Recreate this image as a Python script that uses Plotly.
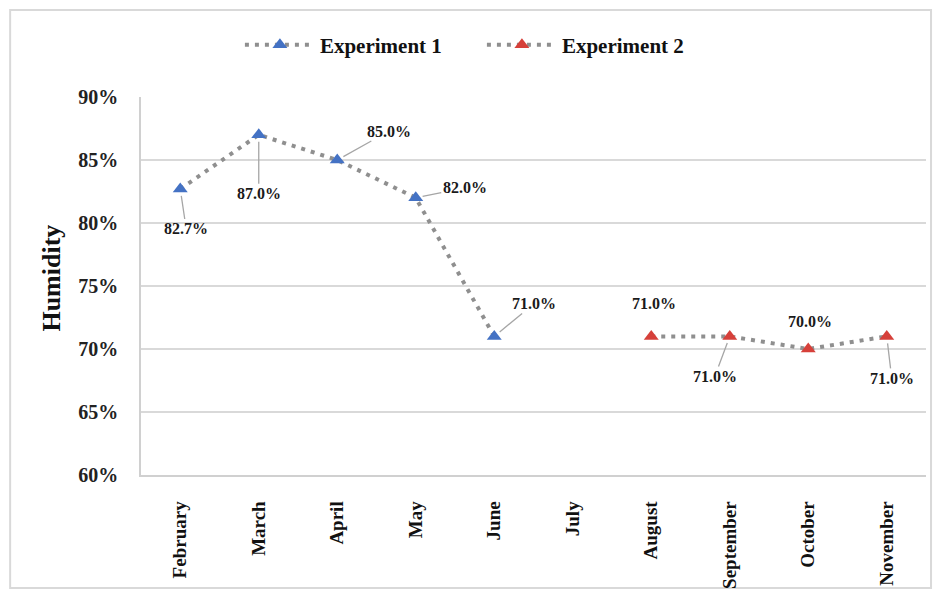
import plotly.graph_objects as go

# Months on the category axis (July has no measurement)
months = ["February", "March", "April", "May", "June", "July",
          "August", "September", "October", "November"]

# Experiment 1: February–June humidity (%)
exp1_months = ["February", "March", "April", "May", "June"]
exp1_values = [82.7, 87.0, 85.0, 82.0, 71.0]

# Experiment 2: August–November humidity (%)
exp2_months = ["August", "September", "October", "November"]
exp2_values = [71.0, 71.0, 70.0, 71.0]

# y-axis ticks
y_ticks = [60, 65, 70, 75, 80, 85, 90]
y_tick_labels = ["60%", "65%", "70%", "75%", "80%", "85%", "90%"]

SERIF = "Liberation Serif, Times New Roman, serif"
LINE_GREY = "#8f8f8f"
BLUE = "#4472C4"
RED = "#D6403A"

fig = go.Figure()

fig.add_trace(go.Scatter(
    x=exp1_months, y=exp1_values, name="Experiment 1", mode="lines+markers",
    line=dict(color=LINE_GREY, width=4, dash="4px,6px"),
    marker=dict(symbol="triangle-up", size=13, color=BLUE),
))
fig.add_trace(go.Scatter(
    x=exp2_months, y=exp2_values, name="Experiment 2", mode="lines+markers",
    line=dict(color=LINE_GREY, width=4, dash="4px,6px"),
    marker=dict(symbol="triangle-up", size=13, color=RED),
))

# Data labels: (pixel offset of label, draw leader line)
label_layout = {
    ("Experiment 1", "February"): (6, 40, True),
    ("Experiment 1", "March"): (0, 59, True),
    ("Experiment 1", "April"): (52, -29, True),
    ("Experiment 1", "May"): (49, -10, True),
    ("Experiment 1", "June"): (40, -33, True),
    ("Experiment 2", "August"): (3, -33, False),
    ("Experiment 2", "September"): (-15, 40, True),
    ("Experiment 2", "October"): (2, -28, False),
    ("Experiment 2", "November"): (5, 42, True),
}

for series, xs, ys in (("Experiment 1", exp1_months, exp1_values),
                       ("Experiment 2", exp2_months, exp2_values)):
    for m, v in zip(xs, ys):
        ax, ay, leader = label_layout[(series, m)]
        fig.add_annotation(
            x=m, y=v, text=f"{v:.1f}%", showarrow=True, ax=ax, ay=ay,
            arrowhead=0, arrowwidth=1.3,
            arrowcolor="#a6a6a6" if leader else "rgba(0,0,0,0)",
            standoff=7, startstandoff=0,
            font=dict(family=SERIF, size=16, color="#1a1a1a", weight="bold"),
        )

# Y-axis title
fig.add_annotation(
    xref="paper", yref="paper", x=-0.114, y=0.521, text="<b>Humidity</b>",
    xanchor="center", yanchor="middle",
    textangle=-90, showarrow=False,
    font=dict(family=SERIF, size=26, color="#111111"),
)

# Chart-area border
fig.add_shape(
    type="rect", xref="paper", yref="paper",
    x0=-0.1667, x1=1.0064, y0=-0.299, y1=1.230,
    line=dict(color="#d9d9d9", width=2), fillcolor="rgba(0,0,0,0)", layer="below",
)

fig.update_layout(
    width=943, height=591,
    margin=dict(l=141, r=17, t=97, b=116, autoexpand=False),
    paper_bgcolor="white", plot_bgcolor="white",
    showlegend=True,
    legend=dict(
        orientation="h", x=0.126, y=1.137, xanchor="left", yanchor="middle",
        font=dict(family=SERIF, size=21, color="#111111", weight="bold"),
        itemwidth=70, tracegroupgap=0, entrywidth=157,
    ),
    xaxis=dict(
        type="category", categoryorder="array", categoryarray=months,
        range=[-0.5, len(months) - 0.5], automargin=False,
        tickvals=months, ticktext=months, tickangle=-90,
        tickfont=dict(family=SERIF, size=19, color="#111111", weight="bold"),
        showgrid=False, showline=True, linecolor="#d0d0d0", linewidth=1.5,
        ticks="", ticklabelstandoff=17,
    ),
    yaxis=dict(
        range=[60, 90], tickvals=y_ticks, ticktext=y_tick_labels,
        automargin=False,
        tickfont=dict(family=SERIF, size=20, color="#222222", weight="bold"),
        showgrid=True, gridcolor="#d9d9d9", gridwidth=1.5,
        showline=True, linecolor="#d0d0d0", linewidth=1.5,
        zeroline=False, ticks="", ticklabelstandoff=17,
    ),
)

fig.write_html("out.html")
